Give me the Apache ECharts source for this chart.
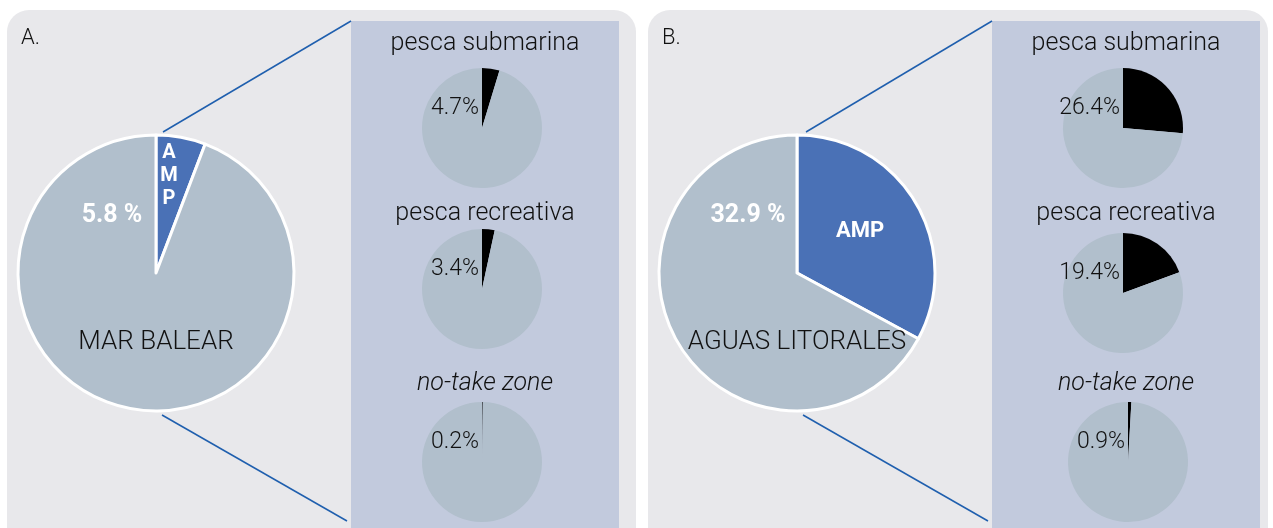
<!DOCTYPE html>
<html>
<head>
<meta charset="utf-8">
<script src="https://cdn.jsdelivr.net/npm/echarts@6/dist/echarts.min.js"></script>
<style>
  html, body { margin: 0; padding: 0; background: #fff; }
  #main { width: 1273px; height: 528px; }
</style>
</head>
<body>
<div id="main"></div>
<script>
// datos
const panelLetters = ["A.", "B."];
const mainLabels = ["MAR BALEAR", "AGUAS LITORALES"];
const ampShare = [5.8, 32.9];
const subTitles = ["pesca submarina", "pesca recreativa", "no-take zone"];
const shareA = [4.7, 3.4, 0.2];
const shareB = [26.4, 19.4, 0.9];

const GREY = "#b1bfcc";
const BLUE = "#4a71b6";
const LINE = "#1f5fae";
const FONT = "Roboto, 'Liberation Sans', sans-serif";

// layout
const mainCenters = [[156, 273], [797, 273]];
const smallCenters = [
  [[482, 128], [482, 289], [482, 462]],
  [[1123, 128], [1123, 293], [1128, 462]]
];
const titleY = [44, 214, 384];
const innerX = [351, 992];
const panelX = [7, 648];

const chartDom = document.getElementById("main");
const myChart = echarts.init(chartDom);

const series = [];
const graphic = [];

[0, 1].forEach(p => {
  graphic.push({
    type: "rect", z: -10,
    shape: { x: panelX[p], y: 10, width: p === 0 ? 629 : 620, height: 560, r: 22 },
    style: { fill: "#e8e8eb" }
  });
  graphic.push({
    type: "rect", z: -9,
    shape: { x: innerX[p], y: 21, width: 268, height: 540 },
    style: { fill: "#c2cadd" }
  });
  const c = mainCenters[p];
  graphic.push({
    type: "line", z: -8,
    shape: { x1: c[0] + (p === 0 ? 7 : 9), y1: 132, x2: innerX[p], y2: 21 },
    style: { stroke: LINE, lineWidth: 1.5 }
  });
  graphic.push({
    type: "line", z: -8,
    shape: { x1: c[0] + 6, y1: 415, x2: innerX[p] - 4, y2: 521 },
    style: { stroke: LINE, lineWidth: 1.5 }
  });
  graphic.push({
    type: "text", z: 100,
    style: { text: panelLetters[p], x: panelX[p] + 14, y: 38, fill: "#111", font: "300 22px " + FONT, verticalAlign: "middle" }
  });

  // pie principal
  series.push({
    type: "pie",
    center: c,
    radius: [0, 138],
    startAngle: 90,
    clockwise: true,
    silent: true,
    animation: false,
    label: { show: false },
    labelLine: { show: false },
    itemStyle: { borderColor: "#fff", borderWidth: 3 },
    data: [
      { value: ampShare[p], name: "AMP", itemStyle: { color: BLUE } },
      { value: 100 - ampShare[p], name: mainLabels[p], itemStyle: { color: GREY } }
    ]
  });

  graphic.push({
    type: "text", z: 100,
    style: {
      text: ampShare[p].toFixed(1) + " %", x: c[0] + (p === 0 ? -44 : -49), y: 216,
      fill: "#fff", font: "bold 25px " + FONT, align: "center", verticalAlign: "middle"
    }
  });
  graphic.push({
    type: "text", z: 100,
    style: {
      text: mainLabels[p], x: c[0], y: 342,
      fill: "#111", font: "300 26px " + FONT, align: "center", verticalAlign: "middle"
    }
  });
  if (p === 0) {
    graphic.push({
      type: "text", z: 100,
      style: {
        text: "A\nM\nP", x: c[0] + 13, y: 176, lineHeight: 23,
        fill: "#fff", font: "bold 20px " + FONT, align: "center", verticalAlign: "middle"
      }
    });
  } else {
    graphic.push({
      type: "text", z: 100,
      style: {
        text: "AMP", x: c[0] + 63, y: 231,
        fill: "#fff", font: "bold 22px " + FONT, align: "center", verticalAlign: "middle"
      }
    });
  }

  // pies pequeños
  const shares = p === 0 ? shareA : shareB;
  shares.forEach((s, i) => {
    const sc = smallCenters[p][i];
    series.push({
      type: "pie",
      center: sc,
      radius: [0, 60],
      startAngle: 90,
      clockwise: true,
      silent: true,
      animation: false,
      label: { show: false },
      labelLine: { show: false },
      data: [
        { value: s, name: subTitles[i], itemStyle: { color: "#000" } },
        { value: 100 - s, name: "resto", itemStyle: { color: GREY } }
      ]
    });
    graphic.push({
      type: "text", z: 100,
      style: {
        text: subTitles[i], x: innerX[p] + 134, y: titleY[i],
        fill: "#111", font: (i === 2 ? "italic " : "") + "300 25px " + FONT,
        align: "center", verticalAlign: "middle"
      }
    });
    graphic.push({
      type: "text", z: 100,
      style: {
        text: s.toFixed(1) + "%", x: sc[0] - 3, y: sc[1] - 20,
        fill: "#111", font: "300 23px " + FONT, align: "right", verticalAlign: "middle"
      }
    });
  });
});

const option = {
  animation: false,
  backgroundColor: "#fff",
  graphic: graphic,
  series: series
};
myChart.setOption(option);
</script>
</body>
</html>
